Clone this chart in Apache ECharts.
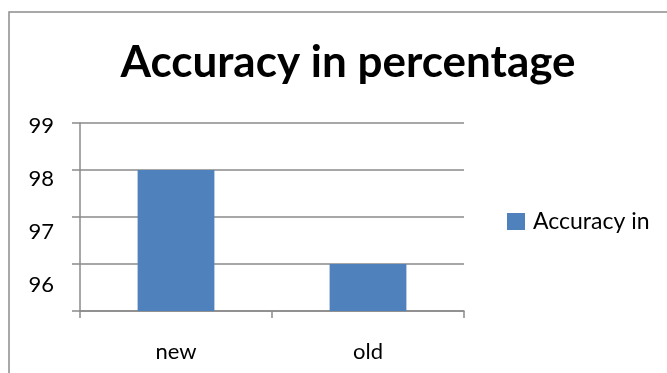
<!DOCTYPE html>
<html>
<head>
<meta charset="utf-8">
<script src="https://cdn.jsdelivr.net/npm/echarts@6/dist/echarts.min.js"></script>
<style>
  html, body { margin: 0; padding: 0; background: #fff; }
  #main { width: 667px; height: 373px; }
</style>
</head>
<body>
<div id="main"></div>
<script>
// chart data
const categories = ['new', 'old'];
const accuracy = [98, 96];
const yTickLabels = [96, 97, 98, 99];
const seriesName = 'Accuracy in';
const titleText = 'Accuracy in percentage';

const chart = echarts.init(document.getElementById('main'));
const axisGray = '#8a8a8a';
const font = 'Lato, "Open Sans", sans-serif';

const option = {
  backgroundColor: '#fff',
  animation: false,
  title: {
    text: titleText,
    left: 343,
    textAlign: 'center',
    top: 36,
    textStyle: { fontFamily: font, fontWeight: 'bold', fontSize: 44, color: '#000' }
  },
  legend: {
    left: 502,
    top: 205,
    icon: 'rect',
    itemWidth: 18,
    itemHeight: 17,
    itemGap: 6,
    data: [seriesName],
    textStyle: { fontFamily: font, fontSize: 23, color: '#000', padding: [0, 0, 0, 3] }
  },
  grid: { left: 80, right: 203, top: 123, bottom: 62 },
  xAxis: {
    type: 'category',
    data: categories,
    axisLine: { lineStyle: { color: axisGray, width: 1.5 } },
    axisTick: { show: true, length: 7, lineStyle: { color: axisGray, width: 1.5 } },
    axisLabel: { margin: 30, fontFamily: font, fontSize: 22, color: '#000' }
  },
  yAxis: [
    {
      // gridlines and ticks
      type: 'value',
      min: 95,
      max: 99,
      interval: 1,
      axisLine: { show: true, lineStyle: { color: axisGray, width: 1.5 } },
      axisTick: { show: true, length: 8, lineStyle: { color: axisGray, width: 1.5 } },
      axisLabel: { show: false },
      splitLine: { lineStyle: { color: axisGray, width: 1.5 } }
    },
    {
      // labels only, placed like the original picture
      type: 'value',
      position: 'left',
      min: 95.509,
      max: 99.062,
      axisLine: { show: false },
      axisTick: { show: false },
      splitLine: { show: false },
      axisLabel: {
        customValues: yTickLabels,
        margin: 26,
        fontFamily: font,
        fontSize: 22,
        color: '#000'
      }
    }
  ],
  series: [{
    name: seriesName,
    type: 'bar',
    data: accuracy,
    barCategoryGap: '60%',
    itemStyle: { color: '#4F81BD' }
  }],
  graphic: [{
    type: 'rect',
    shape: { x: 9, y: 12, width: 700, height: 420 },
    style: { fill: 'none', stroke: '#8c8c8c', lineWidth: 1.5 },
    silent: true
  }]
};

chart.setOption(option);
</script>
</body>
</html>
